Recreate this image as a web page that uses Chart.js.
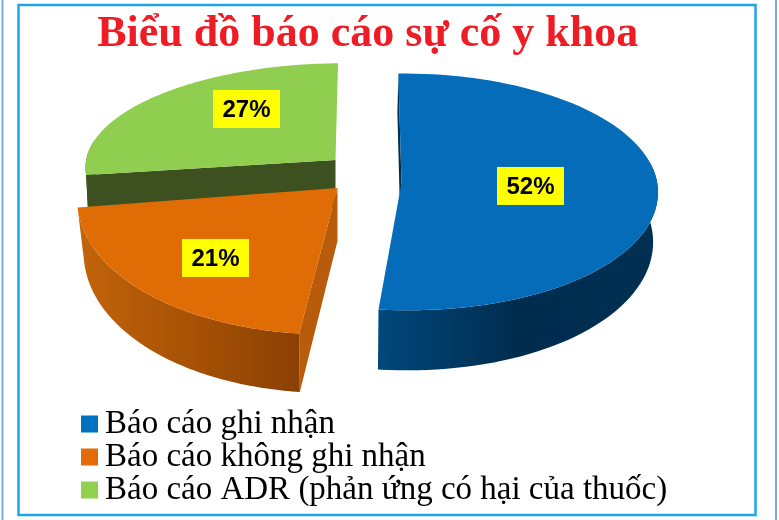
<!DOCTYPE html>
<html>
<head>
<meta charset="utf-8">
<title>Biểu đồ báo cáo sự cố y khoa</title>
<script src="https://cdn.jsdelivr.net/npm/chart.js@4/dist/chart.umd.js"></script>
<style>
  html, body { margin: 0; padding: 0; background: #fff; }
  #wrap { width: 779px; height: 520px; position: relative; }
</style>
</head>
<body>
<div id="wrap"><canvas id="c" width="779" height="520"></canvas></div>
<script>
const titleText = 'Biểu đồ báo cáo sự cố y khoa';
const categories = ['Báo cáo ghi nhận', 'Báo cáo không ghi nhận', 'Báo cáo ADR (phản ứng có hại của thuốc)'];
const percents = [52, 21, 27];
const faceColors = ['#046cb9', '#e06c06', '#90ce50'];
const legendColors = ['#0070c0', '#e36c09', '#92d050'];

// how each slice sits in the tilted view, relative to the pie centre
// shift: explode, k: flattening, t: perspective, rs: radius scale, lean: back/front sideways drift
const views = [
  { shift: [22.75, -53.5], k: 118.3, t: .0756, rs: .995, depth: 49, kBot: 128.6, xBot: .985, xOff: -1, lean: [1, 7],
    side: ['#00487c', '#002c4e', '#003052'], wall: '#00304f' },
  { shift: [-41.25, -48.5], k: 134, t: .0756, rs: 1.01, depth: 53, kBot: 139, xBot: .975, xOff: 0, lean: [0, -8],
    side: ['#c2640a', '#a85205', '#8a4004'], wall: '#b85c0c' },
  { shift: [-43.25, -76.5], k: 107, t: .0756, rs: .97, depth: 48, kBot: 107, xBot: .99, xOff: 0, lean: [7, 0],
    side: ['#3c5020', '#3c5020', '#3c5020'], wall: '#3c5020' }
];
const drawOrder = [2, 0, 1];
const labelOffsets = [[129, 3], [-122, 70], [-89, -51]];

function pt(arc, v, a, bottom) {
  const R = arc.outerRadius;
  const r = R * v.rs;
  const u = r * Math.sin(a) / R;
  const s = 1 / (1 - v.t * u);
  const vx = arc.x + v.shift[0] + (u < 0 ? v.lean[0] : v.lean[1]) * u * u;
  const vy = arc.y + v.shift[1];
  if (bottom) {
    return [vx + v.xOff + r * Math.cos(a) * v.xBot * s, vy + v.depth + v.kBot * u * s];
  }
  return [vx + r * Math.cos(a) * s, vy + v.k * u * s];
}

function arcPoints(arc, v, bottom, frontOnly) {
  const pts = [];
  const n = 90;
  for (let i = 0; i <= n; i++) {
    const a = arc.startAngle + (arc.endAngle - arc.startAngle) * i / n;
    // the far part of the rim is out of sight
    if (frontOnly && Math.sin(a) < -.2) continue;
    pts.push(pt(arc, v, a, bottom));
  }
  return pts;
}

function poly(ctx, pts, fill) {
  ctx.beginPath();
  pts.forEach((p, i) => i ? ctx.lineTo(p[0], p[1]) : ctx.moveTo(p[0], p[1]));
  ctx.closePath();
  ctx.fillStyle = fill;
  ctx.fill();
}

const tiltedPie = {
  id: 'tiltedPie',
  // title sits left of the legend's centre in the original
  afterLayout(chart) {
    chart.titleBlock.right -= 22;
  },
  beforeDraw(chart) {
    const ctx = chart.ctx;
    ctx.save();
    ctx.lineWidth = 2;
    ctx.strokeStyle = '#7ea6ea';
    ctx.strokeRect(2.5, -4, 773.5, 530);
    ctx.lineWidth = 3;
    ctx.strokeStyle = '#8fd6f5';
    ctx.strokeRect(18.5, 5, 737, 510);
    ctx.lineWidth = 2;
    ctx.strokeStyle = '#1fa2e6';
    ctx.strokeRect(18.5, 5, 737, 510);
    ctx.restore();
  },
  // the pie is painted here from the arc elements, so skip the flat one
  beforeDatasetDraw(chart) {
    const ctx = chart.ctx;
    const arcs = chart.getDatasetMeta(0).data;
    ctx.save();
    drawOrder.forEach(i => {
      const arc = arcs[i];
      const v = views[i];
      const vx = arc.x + v.shift[0];
      const vy = arc.y + v.shift[1];
      const top = arcPoints(arc, v, false);
      const bot = arcPoints(arc, v, true);

      // cut face along the first edge of the slice
      poly(ctx, [[vx, vy], top[0], bot[0], [vx + v.xOff, vy + v.depth]], v.wall);

      // outer rim
      const rimTop = arcPoints(arc, v, false, true);
      const rimBot = arcPoints(arc, v, true, true);
      const xs = rimTop.concat(rimBot).map(p => p[0]);
      const g = ctx.createLinearGradient(Math.min(...xs), 0, Math.max(...xs), 0);
      g.addColorStop(0, v.side[0]);
      g.addColorStop(.5, v.side[1]);
      g.addColorStop(1, v.side[2]);
      poly(ctx, rimTop.concat(rimBot.slice().reverse()), g);

      // top face
      poly(ctx, [[vx, vy]].concat(top), faceColors[i]);
    });
    ctx.restore();
    return false;
  },
  afterDatasetsDraw(chart) {
    const ctx = chart.ctx;
    const arcs = chart.getDatasetMeta(0).data;
    ctx.save();
    ctx.font = 'bold 24px "Liberation Sans"';
    ctx.textAlign = 'center';
    ctx.textBaseline = 'middle';
    percents.forEach((p, i) => {
      const x = arcs[i].x + views[i].shift[0] + labelOffsets[i][0];
      const y = arcs[i].y + views[i].shift[1] + labelOffsets[i][1];
      ctx.fillStyle = '#ffff00';
      ctx.fillRect(x - 33.5, y - 19, 67, 38);
      ctx.fillStyle = '#000';
      ctx.fillText(p + '%', x, y + 1);
    });
    ctx.restore();
  },
  // legend clips to its box, so the squares go on afterwards, just left of it
  afterDraw(chart) {
    const ctx = chart.ctx;
    chart.legend.legendHitBoxes.forEach((hb, i) => {
      ctx.fillStyle = legendColors[i];
      ctx.fillRect(hb.left - 7.5, hb.top + (hb.height - 17) / 2, 17, 17);
    });
  }
};

new Chart(document.getElementById('c'), {
  type: 'pie',
  data: {
    labels: categories,
    datasets: [{ data: percents, backgroundColor: legendColors, borderWidth: 0 }]
  },
  options: {
    responsive: false,
    animation: false,
    events: [],
    radius: 257,
    rotation: -1,
    layout: { padding: { left: 88.5, right: 110, top: 6, bottom: 3.5 } },
    plugins: {
      tooltip: { enabled: false },
      title: {
        display: true,
        text: titleText,
        color: '#ee1c25',
        font: { family: '"Liberation Serif"', size: 44, weight: 'bold' },
        padding: { top: 2.6, bottom: 4 }
      },
      legend: {
        position: 'bottom',
        align: 'start',
        labels: {
          color: '#000',
          boxWidth: 0,
          padding: 0,
          font: { family: '"Liberation Serif"', size: 33 }
        }
      }
    }
  },
  plugins: [tiltedPie]
});
</script>
</body>
</html>
